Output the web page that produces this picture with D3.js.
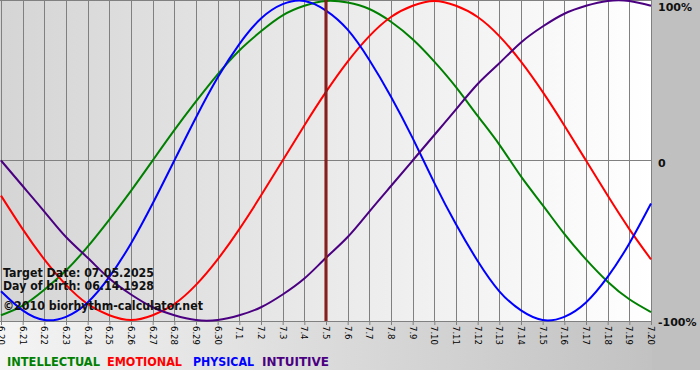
<!DOCTYPE html>
<html>
<head>
<meta charset="utf-8">
<script src="https://cdn.jsdelivr.net/npm/d3@7"></script>
<style>
  body { margin: 0; background: #fff; }
  svg { display: block; }
  text { font-family: "DejaVu Sans", Verdana, sans-serif; }
</style>
</head>
<body>
<script>
// days shown on the x axis
const days = ["6.20", "6.21", "6.22", "6.23", "6.24", "6.25", "6.26", "6.27", "6.28", "6.29", "6.30",
    "7.1", "7.2", "7.3", "7.4", "7.5", "7.6", "7.7", "7.8", "7.9", "7.10",
    "7.11", "7.12", "7.13", "7.14", "7.15", "7.16", "7.17", "7.18", "7.19", "7.20"];

// percent values per day
const physical = [-82, -94, -100, -98, -89, -73, -52, -27, 0, 27, 52, 73, 89, 98, 100, 94,
    82, 63, 40, 14, -14, -40, -63, -82, -94, -100, -98, -89, -73, -52, -27];
const emotional = [-22, -43, -62, -78, -90, -97, -100, -97, -90, -78, -62, -43, -22, 0, 22, 43,
    62, 78, 90, 97, 100, 97, 90, 78, 62, 43, 22, 0, -22, -43, -62];
const intellectual = [-97, -91, -81, -69, -54, -37, -19, 0, 19, 37, 54, 69, 81, 91, 97, 100,
    99, 95, 87, 76, 62, 46, 28, 10, -10, -28, -46, -62, -76, -87, -95];
const intuitive = [0, -16, -32, -48, -61, -74, -84, -92, -97, -100, -100, -97, -92, -84, -74, -61,
    -48, -32, -16, 0, 16, 32, 48, 61, 74, 84, 92, 97, 100, 100, 97];

const yTicks = [100, 0, -100];
const yTickLabels = ["100%", "0", "-100%"];
const targetDay = "7.5";

const series = [
    { name: "INTELLECTUAL", values: intellectual, color: "#008000" },
    { name: "EMOTIONAL", values: emotional, color: "#ff0000" },
    { name: "PHYSICAL", values: physical, color: "#0000ff" },
    { name: "INTUITIVE", values: intuitive, color: "#4b0082" }
];

const W = 700, H = 380;
const plot = { left: 1, right: 651, top: 0, bottom: 321 };

const x = d3.scalePoint().domain(days).range([plot.left, plot.right]);
const y = d3.scaleLinear().domain([-100, 100]).range([plot.bottom - 1, plot.top + 1]);

const svg = d3.select("body").append("svg")
    .attr("width", W)
    .attr("height", H);

const defs = svg.append("defs");
const g1 = defs.append("linearGradient").attr("id", "plotbg");
g1.append("stop").attr("offset", "0%").attr("stop-color", "#d5d5d5");
g1.append("stop").attr("offset", "100%").attr("stop-color", "#ffffff");
const g2 = defs.append("linearGradient").attr("id", "bottombg");
g2.append("stop").attr("offset", "0%").attr("stop-color", "#f4f4f4");
g2.append("stop").attr("offset", "100%").attr("stop-color", "#c2c2c2");

// backgrounds
svg.append("rect").attr("x", 0).attr("y", plot.bottom).attr("width", plot.right + 1).attr("height", 370 - plot.bottom)
    .attr("fill", "url(#bottombg)");
svg.append("rect").attr("x", plot.right + 1).attr("y", 0).attr("width", W - plot.right - 1).attr("height", 370)
    .attr("fill", "#c0c0c0");
svg.append("rect").attr("x", 0).attr("y", 0).attr("width", plot.right + 1).attr("height", plot.bottom)
    .attr("fill", "url(#plotbg)");

// vertical grid + bottom ticks
svg.append("g")
    .attr("transform", "translate(0," + plot.bottom + ")")
    .call(d3.axisBottom(x).tickSize(4).tickFormat(""))
    .call(g => g.select(".domain").remove())
    .call(g => g.selectAll("line").attr("stroke", "#808080"));

svg.append("g")
    .attr("transform", "translate(0," + plot.bottom + ")")
    .call(d3.axisBottom(x).tickSize(-(plot.bottom - plot.top)).tickFormat(""))
    .call(g => g.select(".domain").remove())
    .call(g => g.selectAll("line").attr("stroke", "#808080").attr("shape-rendering", "crispEdges"));

// horizontal lines: top, zero, bottom
svg.append("g")
    .selectAll("line")
    .data([100, 0])
    .join("line")
    .attr("x1", 0).attr("x2", plot.right + 1)
    .attr("y1", d => Math.round(y(d)) - 0.5).attr("y2", d => Math.round(y(d)) - 0.5)
    .attr("stroke", "#808080");
svg.append("line")
    .attr("x1", 0).attr("x2", plot.right + 1)
    .attr("y1", plot.bottom + 0.5).attr("y2", plot.bottom + 0.5)
    .attr("stroke", "#808080");

// day labels, rotated
svg.append("g")
    .selectAll("text")
    .data(days)
    .join("text")
    .attr("transform", d => "translate(" + x(d) + "," + (plot.bottom + 5) + ") rotate(90)")
    .attr("dy", "0.35em")
    .attr("font-size", "8.5px")
    .attr("fill", "#000")
    .text(d => d);

// y labels
svg.append("g")
    .selectAll("text")
    .data(yTicks)
    .join("text")
    .attr("x", 658)
    .attr("y", d => Math.max(11, y(d) + 6))
    .attr("font-size", "11px")
    .attr("font-weight", "bold")
    .attr("fill", "#111")
    .text((d, i) => yTickLabels[i]);

// curves
const line = d3.line()
    .x((d, i) => x(days[i]))
    .y(d => y(d))
    .curve(d3.curveNatural);

const clip = defs.append("clipPath").attr("id", "clip");
clip.append("rect").attr("x", 0).attr("y", -2).attr("width", plot.right + 1).attr("height", plot.bottom + 4);

svg.append("g")
    .attr("clip-path", "url(#clip)")
    .selectAll("path")
    .data(series)
    .join("path")
    .attr("d", d => line(d.values))
    .attr("fill", "none")
    .attr("stroke", d => d.color)
    .attr("stroke-width", 2);

// target day marker
svg.append("line")
    .attr("x1", x(targetDay)).attr("x2", x(targetDay))
    .attr("y1", plot.top).attr("y2", plot.bottom)
    .attr("stroke", "#6e1010")
    .attr("stroke-width", 3);
svg.append("line")
    .attr("x1", x(targetDay)).attr("x2", x(targetDay))
    .attr("y1", plot.top).attr("y2", plot.bottom)
    .attr("stroke", "#b02828")
    .attr("stroke-width", 1);

// info text
const info = [
    { t: "Target Date: 07.05.2025", y: 277, w: 151 },
    { t: "Day of birth: 06.14.1928", y: 290, w: 151 },
    { t: "\u00a92010 biorhythm-calculator.net", y: 310, w: 200 }
];
svg.append("g")
    .selectAll("text")
    .data(info)
    .join("text")
    .attr("x", 3)
    .attr("y", d => d.y)
    .attr("font-size", "11.5px")
    .attr("font-weight", "bold")
    .attr("fill", "#111")
    .attr("textLength", d => d.w)
    .attr("lengthAdjust", "spacingAndGlyphs")
    .text(d => d.t);

// legend
const legendX = [7, 107, 193, 262];
const legendW = [93, 75, 61, 67];
svg.append("g")
    .selectAll("text")
    .data(series)
    .join("text")
    .attr("x", (d, i) => legendX[i])
    .attr("y", 366)
    .attr("font-size", "12px")
    .attr("font-weight", "bold")
    .attr("fill", d => d.color)
    .attr("textLength", (d, i) => legendW[i])
    .attr("lengthAdjust", "spacingAndGlyphs")
    .text(d => d.name);
</script>
</body>
</html>
